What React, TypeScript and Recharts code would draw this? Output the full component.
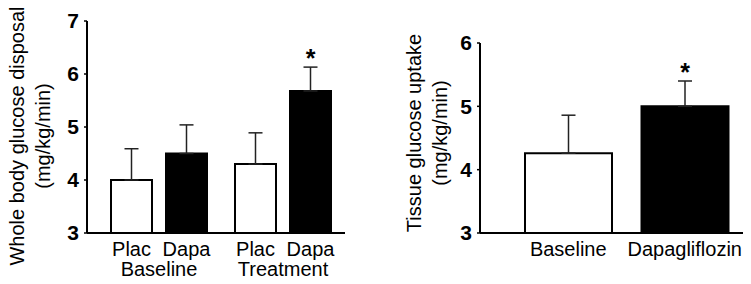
import React from "react";
import { BarChart, Bar, XAxis, YAxis, ErrorBar, LabelList, Cell } from "recharts";

// left panel: whole body glucose disposal
const groups = ["Baseline", "Treatment"];
const placValues = [4.0, 4.3];
const placErrors = [0.59, 0.59];
const dapaValues = [4.5, 5.68];
const dapaErrors = [0.54, 0.45];
const dapaSig = [false, true];

// right panel: tissue glucose uptake
const periods = ["Baseline", "Dapagliflozin"];
const uptakeValues = [4.26, 5.0];
const uptakeErrors = [0.6, 0.4];
const uptakeSig = [false, true];
const uptakeFills = ["#fff", "#000"];

const leftTicks = [3, 4, 5, 6, 7];
const rightTicks = [3, 4, 5, 6];

const FONT = "'Liberation Sans', Arial, Helvetica, sans-serif";
const BAR_L = 41;
const GAP_L = 14;
const BAR_R = 87;
const Y_MIN = 3;

const leftData = groups.map((g, i) => ({
  group: g,
  plac: placValues[i],
  placErr: [0, placErrors[i]],
  dapa: dapaValues[i],
  dapaErr: [0, dapaErrors[i]],
}));

const rightData = periods.map((p, i) => ({
  period: p,
  uptake: uptakeValues[i],
  uptakeErr: [0, uptakeErrors[i]],
}));

function AxisTitle({ viewBox, lines, cy }: any) {
  const x0 = viewBox ? viewBox.x : 0;
  return (
    <g>
      {lines.map((t: string, i: number) => (
        <text
          key={i}
          transform={`translate(${x0 + 24 + i * 26},${cy}) rotate(-90)`}
          textAnchor="middle"
          fontSize={20}
          fontFamily={FONT}
          fill="#000"
        >
          {t}
        </text>
      ))}
    </g>
  );
}

function GroupTick({ x, y, payload }: any) {
  const off = (BAR_L + GAP_L) / 2;
  return (
    <g fontFamily={FONT} fontSize={20} fill="#000">
      <text x={x - off} y={y + 23} textAnchor="middle">Plac</text>
      <text x={x + off} y={y + 23} textAnchor="middle">Dapa</text>
      <text x={x} y={y + 43} textAnchor="middle">{payload.value}</text>
    </g>
  );
}

function PeriodTick({ x, y, payload }: any) {
  return (
    <text x={x} y={y + 23} textAnchor="middle" fontFamily={FONT} fontSize={20} fill="#000">
      {payload.value}
    </text>
  );
}

// asterisk sits just above the top of the error whisker
function starLabel(values: number[], errors: number[], sig: boolean[]) {
  return (props: any) => {
    const { x, y, width, height, index } = props;
    if (!sig[index]) return null;
    const ppu = height / (values[index] - Y_MIN);
    const top = y - errors[index] * ppu;
    return (
      <text
        x={x + width / 2}
        y={top}
        textAnchor="middle"
        fontFamily={FONT}
        fontWeight="bold"
        fontSize={25}
        fill="#000"
      >
        *
      </text>
    );
  };
}

const yTick = { fontSize: 21, fontWeight: "bold", fill: "#000", fontFamily: FONT };
const axisLine = { stroke: "#000", strokeWidth: 2 };

export default function App() {
  return (
    <div style={{ position: "absolute", left: 0, top: 0, width: 751, height: 284, background: "#fff" }}>
      <div style={{ position: "absolute", left: 0, top: 0 }}>
        <BarChart
          width={360}
          height={284}
          data={leftData}
          margin={{ top: 21, right: 15, bottom: 0, left: 0 }}
          barSize={BAR_L}
          barGap={GAP_L}
        >
          <XAxis
            dataKey="group"
            height={51}
            axisLine={axisLine}
            tickLine={false}
            tickSize={0}
            tickMargin={0}
            padding={{ left: 10, right: 0 }}
            tick={<GroupTick />}
            interval={0}
          />
          <YAxis
            width={87}
            domain={[3, 7]}
            ticks={leftTicks}
            allowDataOverflow
            axisLine={axisLine}
            tickLine={{ stroke: "#000", strokeWidth: 1.5 }}
            tickSize={3}
            tickMargin={5}
            tick={yTick}
            label={<AxisTitle lines={["Whole body glucose disposal", "(mg/kg/min)"]} cy={136} />}
          />
          <Bar dataKey="plac" fill="#fff" stroke="#000" strokeWidth={2} isAnimationActive={false}>
            <ErrorBar dataKey="placErr" width={7} stroke="#222" strokeWidth={1.5} />
          </Bar>
          <Bar dataKey="dapa" fill="#000" stroke="#000" strokeWidth={2} isAnimationActive={false}>
            <ErrorBar dataKey="dapaErr" width={7} stroke="#222" strokeWidth={1.5} />
            <LabelList dataKey="dapa" content={starLabel(dapaValues, dapaErrors, dapaSig)} />
          </Bar>
        </BarChart>
      </div>
      <div style={{ position: "absolute", left: 397, top: 0 }}>
        <BarChart
          width={354}
          height={284}
          data={rightData}
          margin={{ top: 43, right: 8, bottom: 0, left: 0 }}
          barSize={BAR_R}
        >
          <XAxis
            dataKey="period"
            height={51}
            axisLine={axisLine}
            tickLine={false}
            tickSize={0}
            tickMargin={0}
            padding={{ left: 30, right: 0 }}
            tick={<PeriodTick />}
            interval={0}
          />
          <YAxis
            width={83}
            domain={[3, 6]}
            ticks={rightTicks}
            allowDataOverflow
            axisLine={axisLine}
            tickLine={{ stroke: "#000", strokeWidth: 1.5 }}
            tickSize={3}
            tickMargin={5}
            tick={yTick}
            label={<AxisTitle lines={["Tissue glucose uptake", "(mg/kg/min)"]} cy={133} />}
          />
          <Bar dataKey="uptake" stroke="#000" strokeWidth={2} isAnimationActive={false}>
            {rightData.map((_, i) => (
              <Cell key={i} fill={uptakeFills[i]} />
            ))}
            <ErrorBar dataKey="uptakeErr" width={7} stroke="#222" strokeWidth={1.5} />
            <LabelList dataKey="uptake" content={starLabel(uptakeValues, uptakeErrors, uptakeSig)} />
          </Bar>
        </BarChart>
      </div>
    </div>
  );
}
